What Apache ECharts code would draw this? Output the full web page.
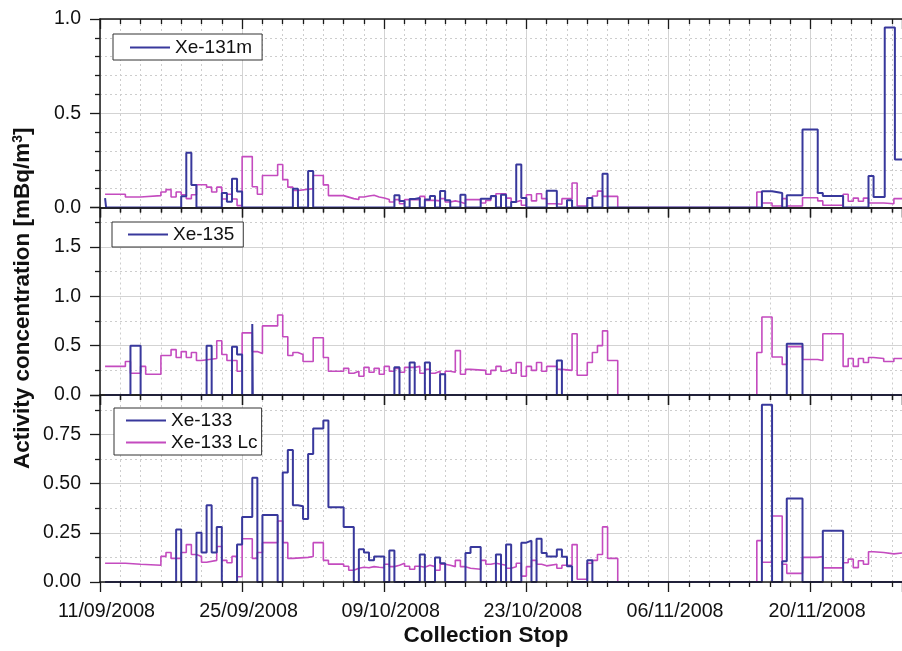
<!DOCTYPE html>
<html>
<head>
<meta charset="utf-8">
<script src="https://cdn.jsdelivr.net/npm/echarts@6/dist/echarts.min.js"></script>
<style>
html, body { margin: 0; padding: 0; background: #fff; }
#chart { width: 902px; height: 651px; }
</style>
</head>
<body>
<div id="chart"></div>
<script>
// x = days after 11/09/2008 (collection stop), y = mBq/m3
// each point [day, value] holds its value until the next point (step: 'end')
var startDate = [2008, 8, 11];
var dayMax = 79;

var xe131m = [[0.5,0.05],[0.6,0],[8,0.06],[8.5,0.29],[9,0.12],[9.5,0],[12,0.077],[12.5,0.03],[13,0.153],[13.5,0.085],[14,0],
  [19,0.10],[19.5,0],[20.5,0.193],[21,0],[29,0.065],[29.5,0.035],[30,0],[30.5,0.045],[31,0.05],[31.5,0],[32,0.042],[32.5,0.061],[33,0],
  [33.5,0.087],[34,0.038],[34.5,0],[35.5,0.068],[36,0],[37.5,0.047],[38.5,0.061],[39,0],[39.5,0.068],[40,0],[40.5,0.029],[41,0.228],
  [41.5,0.05],[42,0],[44,0.089],[45,0],[46,0.038],[46.5,0],[48,0.05],[48.5,0],[49.5,0.179],[50,0],[65.2,0.086],[66.2,0.077],[67.2,0],
  [67.65,0.065],[69.2,0.414],[70.7,0.077],[71.2,0.061],[73.2,0],[75.7,0.167],[76.2,0.056],[77.3,0.955],[78.3,0.255],[79,0.255]];

var xe131mLc = [[0.5,0.07],[2.5,0.056],[4,0.063],[6,0.082],[6.5,0.095],[7,0.056],[7.5,0.082],[8,0.068],[8.5,0.047],[9,0.068],
  [9.5,0.121],[10.5,0.108],[11,0.082],[11.5,0.108],[12,0.045],[12.5,0.07],[13,0.045],[13.5,0.01],[14,0.27],[15,0.11],[15.5,0.07],
  [16,0.17],[17.5,0.228],[18,0.148],[18.5,0.108],[19,0.09],[19.5,0.10],[21,0.17],[22,0.12],[22.5,0.063],[24,0.055],[24.5,0.047],
  [25,0.042],[25.5,0.056],[26,0.061],[26.5,0.065],[27,0.056],[27.5,0.05],[28,0.042],[28.5,0.029],[29,0.042],[29.5,0.02],[30,0.042],
  [31.5,0.059],[32,0.038],[33,0.035],[33.5,0.047],[34,0.029],[34.5,0.035],[35,0.029],[35.5,0.02],[36,0.042],[37.5,0.024],[38,0.038],
  [38.5,0.059],[39,0.073],[40,0.05],[40.5,0.029],[41,0.038],[41.5,0.012],[42,0.068],[42.5,0.035],[43,0.073],[43.5,0.047],[44,0.02],
  [45,0.017],[45.5,0.047],[46.5,0.13],[47,0.008],[48,0.05],[48.5,0.061],[49,0.087],[49.5,0.059],[51,0],[64.7,0.082],[65.2,0.024],
  [66.2,0.008],[67.2,0.047],[67.65,0.008],[69.2,0.052],[70.7,0.035],[71.2,0.012],[73.2,0.07],[73.7,0.033],[74.2,0.05],[74.7,0.033],
  [75.2,0.05],[75.7,0.024],[77.2,0.02],[78.2,0.047],[79,0.047]];

var xe135 = [[0.5,0],[3,0.5],[4,0],[10.5,0.5],[11,0],[13,0.49],[13.5,0.41],[14,0],[15,0.72],[15.05,0],[29,0.28],[29.5,0],
  [30.5,0.33],[31,0],[32,0.33],[32.5,0],[33.5,0.21],[34,0],[45,0.35],[45.5,0],[67.65,0.52],[69.2,0],[79,0]];

var xe135Lc = [[0.5,0.29],[2.5,0.34],[3,0.22],[4,0.29],[4.5,0.21],[6,0.40],[7,0.46],[7.5,0.38],[8,0.44],[8.5,0.38],[9,0.43],
  [9.5,0.35],[10,0.37],[11.5,0.55],[12,0.41],[12.5,0.35],[13.5,0.24],[14,0.63],[15,0.44],[15.5,0.42],[16,0.70],[17.5,0.81],
  [18,0.59],[18.5,0.40],[19,0.43],[19.5,0.41],[20,0.34],[21,0.58],[22,0.38],[22.5,0.24],[24,0.27],[24.5,0.22],[25,0.24],[25.5,0.19],
  [26,0.28],[26.5,0.23],[27,0.27],[27.5,0.21],[28,0.29],[28.5,0.24],[29,0.27],[29.5,0.23],[30,0.28],[31,0.29],[31.5,0.22],[32,0.26],
  [32.5,0.22],[33,0.24],[33.5,0.21],[34,0.24],[34.5,0.23],[35,0.45],[35.5,0.21],[36,0.26],[36.5,0.25],[38,0.21],[38.5,0.25],
  [39,0.29],[39.5,0.24],[40,0.26],[40.5,0.22],[41,0.33],[41.5,0.19],[42,0.29],[42.5,0.25],[43,0.33],[43.5,0.24],[44,0.29],[45,0.26],
  [45.5,0.25],[46.5,0.62],[47,0.20],[48,0.33],[48.5,0.43],[49,0.50],[49.5,0.65],[50,0.35],[51,0],[64.7,0.43],[65.2,0.79],
  [66.2,0.385],[67.2,0.31],[67.65,0.49],[69.2,0.36],[70.7,0.35],[71.2,0.62],[73.2,0.29],[73.7,0.37],[74.2,0.29],[74.7,0.37],
  [75.2,0.33],[75.7,0.38],[76.2,0.37],[77.2,0.34],[78.2,0.37],[79,0.37]];

var xe133 = [[0.5,0],[7.5,0.267],[8,0],[9.5,0.25],[10,0.15],[10.5,0.39],[11,0.15],[11.5,0.28],[12,0],[13.5,0.19],[14,0.33],
  [15,0.53],[15.5,0],[16,0.34],[17.5,0],[18,0.556],[18.5,0.67],[19,0.39],[19.5,0.385],[20,0.32],[20.5,0.65],[21,0.78],[22,0.82],
  [22.5,0.38],[24,0.28],[25,0],[25.5,0.167],[26,0.15],[26.5,0.11],[27,0.13],[28,0],[28.5,0.16],[29,0],[31.5,0.14],[32,0],
  [33,0.125],[33.5,0.095],[34,0],[36,0.147],[36.5,0.178],[37.5,0],[39,0.14],[39.5,0],[40,0.19],[40.5,0],[41.5,0.2],[42,0.21],
  [42.5,0],[43,0.22],[43.5,0.147],[44,0.13],[45,0.165],[45.5,0.128],[46,0.08],[46.5,0],[48,0.11],[48.5,0],[65.2,0.90],[66.2,0],
  [67.2,0.105],[67.65,0.424],[69.2,0],[71.2,0.26],[73.2,0],[79,0]];

var xe133Lc = [[0.5,0.095],[2.5,0.09],[4,0.085],[6,0.13],[6.5,0.15],[7,0.12],[8,0.15],[8.5,0.19],[9,0.14],[9.5,0.13],[10,0.10],
  [10.5,0.11],[11.5,0.18],[12,0.11],[12.5,0.098],[13,0.13],[13.5,0.027],[14,0.22],[15,0.12],[15.5,0.15],[16,0.20],[17.5,0.31],
  [18,0.20],[18.5,0.12],[19,0.125],[20.5,0.13],[21,0.20],[22,0.11],[22.5,0.091],[24,0.08],[24.5,0.06],[25,0.07],[25.5,0.075],
  [26,0.072],[26.5,0.078],[27,0.075],[27.5,0.073],[28,0.09],[28.5,0.078],[29,0.085],[29.5,0.095],[30,0.08],[30.5,0.065],[31,0.08],
  [31.5,0.075],[32,0.085],[32.5,0.078],[33,0.06],[33.5,0.09],[34,0.085],[34.5,0.078],[35,0.11],[35.5,0.078],[36,0.07],[36.5,0.065],
  [37.5,0.11],[38,0.09],[38.5,0.095],[39,0.09],[39.5,0.085],[40,0.07],[40.5,0.078],[41,0.095],[41.5,0.03],[42,0.078],[42.5,0.11],
  [43,0.09],[43.5,0.082],[44,0.09],[45,0.07],[45.5,0.085],[46.5,0.19],[47,0.014],[48,0.095],[48.5,0.11],[49,0.14],[49.5,0.28],
  [50,0.12],[51,0],[64.7,0.21],[65.2,0.10],[66.2,0.335],[67.2,0.09],[67.65,0.044],[69.2,0.125],[70.7,0.13],[71.2,0.072],
  [73.2,0.098],[73.7,0.116],[74.2,0.073],[74.7,0.108],[75.2,0.09],[75.7,0.154],[76.2,0.15],[77.2,0.143],[78.2,0.147],[79,0.147]];

// y scales of the three panels
var yMax = [1.0, 1.9, 0.95];
var yInterval = [0.5, 0.5, 0.25];
var yMinorSplit = [5, 2, 2];
var yDigits = [1, 1, 2];

var font = 'Liberation Sans, Arial, Helvetica, sans-serif';
var ink = '#1a1a1a';
var blue = '#38389c';
var magenta = '#c44bbf';

function pad(n) { return (n < 10 ? '0' : '') + n; }
function dateLabel(v) {
    var d = new Date(Date.UTC(startDate[0], startDate[1], startDate[2] + Math.round(v)));
    return pad(d.getUTCDate()) + '/' + pad(d.getUTCMonth() + 1) + '/' + d.getUTCFullYear();
}

var grids = [
    { left: 100, width: 802, top: 19, height: 188.5 },
    { left: 100, width: 802, top: 207.5, height: 187.5 },
    { left: 100, width: 802, top: 395, height: 187 }
];

var xAxes = [];
var yAxes = [];
for (var g = 0; g < 3; g++) {
    var last = g === 2;
    // bottom axis: frame, ticks, labels (drawn above the series)
    xAxes.push({
        type: 'value', gridIndex: g, min: 0, max: dayMax, interval: 14, position: 'bottom', z: 10,
        axisLine: { show: true, onZero: false, lineStyle: { color: ink, width: 1.5 } },
        axisTick: { show: true, inside: false, length: 10, lineStyle: { color: ink, width: 1.3 } },
        minorTick: { show: true, splitNumber: 7, length: 5, lineStyle: { color: ink, width: 1.3 } },
        axisLabel: { show: last, margin: 20, fontSize: 19.7, color: '#111', fontFamily: font,
            padding: [0, 0, 0, 13], showMaxLabel: false, formatter: dateLabel },
        splitLine: { show: false },
        name: last ? 'Collection Stop' : '', nameLocation: 'middle', nameGap: 42,
        nameTextStyle: { fontSize: 22.5, fontWeight: 'bold', color: '#111', fontFamily: font, padding: [0, 30, 0, 0] }
    });
    // top axis: frame with inward ticks, vertical grid
    xAxes.push({
        type: 'value', gridIndex: g, min: 0, max: dayMax, interval: 14, position: 'top',
        axisLine: { show: true, onZero: false, lineStyle: { color: ink, width: 1.5 } },
        axisTick: { show: true, inside: true, length: 10, lineStyle: { color: ink, width: 1.3 } },
        minorTick: { show: true, splitNumber: 7, length: 5, lineStyle: { color: ink, width: 1.3 } },
        axisLabel: { show: false },
        splitLine: { show: true, lineStyle: { color: '#d3d3d3', width: 1 } },
        minorSplitLine: { show: true, lineStyle: { color: '#cdcdcd', width: 1, type: [2, 3] } }
    });
    yAxes.push({
        type: 'value', gridIndex: g, min: 0, max: yMax[g], interval: yInterval[g],
        axisLine: { show: true, onZero: false, lineStyle: { color: ink, width: 1.5 } },
        axisTick: { show: true, inside: false, length: 10, lineStyle: { color: ink, width: 1.3 } },
        minorTick: { show: true, splitNumber: yMinorSplit[g], length: 5, lineStyle: { color: ink, width: 1.3 } },
        axisLabel: { margin: 19, fontSize: 19.5, color: '#111', fontFamily: font, showMaxLabel: g === 0,
            formatter: (function (k) { return function (v) { return v.toFixed(yDigits[k]); }; })(g) },
        splitLine: { show: true, lineStyle: { color: '#d3d3d3', width: 1 } },
        minorSplitLine: { show: true, lineStyle: { color: '#cdcdcd', width: 1, type: [2, 3] } },
        name: g === 1 ? 'Activity concentration [mBq/m{sup|3}]' : '',
        nameLocation: 'middle', nameGap: 65,
        nameTextStyle: { fontSize: 22.5, fontWeight: 'bold', color: '#111', fontFamily: font, padding: [0, 0, 0, 6],
            rich: { sup: { fontSize: 14, fontWeight: 'bold', color: '#111', fontFamily: font, verticalAlign: 'top', padding: [0, 0, 10, 0] } } }
    });
}

function stepSeries(name, data, g, color, width, z) {
    return {
        name: name, type: 'line', xAxisIndex: g * 2, yAxisIndex: g, data: data,
        step: 'end', symbol: 'none', showSymbol: false, z: z,
        lineStyle: { color: color, width: width }, itemStyle: { color: color }
    };
}

var legendBase = {
    orient: 'vertical', itemWidth: 40, itemHeight: 2, itemGap: 3,
    icon: 'path://M0,0L40,0L40,2L0,2Z',
    borderColor: '#333', borderWidth: 1, backgroundColor: '#fff',
    textStyle: { fontSize: 19, color: '#111', fontFamily: font, padding: [0, 0, 0, 0] }, selectedMode: false
};

var chart = echarts.init(document.getElementById('chart'));
chart.setOption({
    animation: false,
    backgroundColor: '#fff',
    grid: grids,
    xAxis: xAxes,
    yAxis: yAxes,
    legend: [
        Object.assign({}, legendBase, { data: ['Xe-131m'], left: 113, top: 34, padding: [4, 10, 3, 17] }),
        Object.assign({}, legendBase, { data: ['Xe-135'], left: 112, top: 222, padding: [3, 9, 3, 16] }),
        Object.assign({}, legendBase, { data: ['Xe-133', 'Xe-133 Lc'], left: 114, top: 408, padding: [3, 4, 3, 12] })
    ],
    series: [
        stepSeries('Xe-131m Lc', xe131mLc, 0, magenta, 1.6, 2),
        stepSeries('Xe-131m', xe131m, 0, blue, 2, 3),
        stepSeries('Xe-135 Lc', xe135Lc, 1, magenta, 1.6, 2),
        stepSeries('Xe-135', xe135, 1, blue, 2, 3),
        stepSeries('Xe-133 Lc', xe133Lc, 2, magenta, 1.6, 2),
        stepSeries('Xe-133', xe133, 2, blue, 2, 3)
    ]
});
</script>
</body>
</html>
